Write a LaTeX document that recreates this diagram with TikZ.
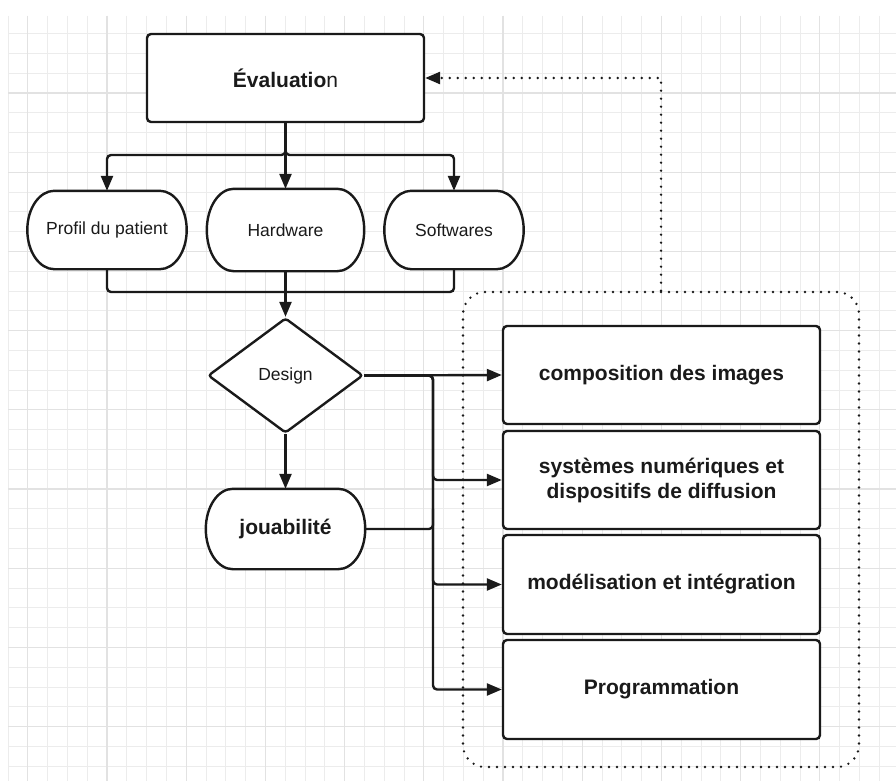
\documentclass[tikz,border=0pt]{standalone}
\usepackage{fontspec}
\setmainfont{Liberation Sans}
\usetikzlibrary{arrows.meta,shapes.geometric,calc,backgrounds}

\definecolor{ink}{HTML}{1A1A1A}
\definecolor{gridminor}{HTML}{ECECEC}
\definecolor{gridmajor}{HTML}{E2E2E2}

% stadium outline with elliptical ends, drawn around a named node
\newcommand\pilloutline[2]{%
  \draw[outline,fill=white] ([xshift=#2]#1.north west) -- ([xshift=-#2]#1.north east)
    .. controls ([xshift=-0.4477*#2]#1.north east) and ($(#1.east)!0.5523!(#1.north east)$) .. (#1.east)
    .. controls ($(#1.east)!0.5523!(#1.south east)$) and ([xshift=-0.4477*#2]#1.south east) .. ([xshift=-#2]#1.south east)
    -- ([xshift=#2]#1.south west)
    .. controls ([xshift=0.4477*#2]#1.south west) and ($(#1.west)!0.5523!(#1.south west)$) .. (#1.west)
    .. controls ($(#1.west)!0.5523!(#1.north west)$) and ([xshift=0.4477*#2]#1.north west) .. ([xshift=#2]#1.north west)
    -- cycle;}

\tikzset{
  outline/.style={draw=ink,line width=2.4pt},
  boxnode/.style={outline,fill=white,rounded corners=4pt,inner sep=0pt,align=center},
  pillnode/.style={inner sep=0pt,align=center},
  boldtext/.style={font=\fontsize{21}{25}\selectfont\bfseries,text=ink},
  plaintext/.style={font=\fontsize{17.5}{21}\selectfont,text=ink},
  conn/.style={draw=ink,line width=2.4pt,rounded corners=4pt},
  tip/.style={-{Triangle[length=15pt,width=12pt]}},
  dots/.style={draw=ink,line width=2.6pt,line cap=round,dash pattern=on 0pt off 8pt},
}

\begin{document}
\begin{tikzpicture}[x=1pt,y=-1pt]
\useasboundingbox (0,0) rectangle (896,781);

% squared paper
\begin{scope}[on background layer]
  \fill[white] (0,0) rectangle (896,781);
  \begin{scope}
    \clip (8,16) rectangle (896,781);
    \foreach \i in {-5,...,40}
      \draw[gridminor,line width=1pt] ({107+19.8*\i},16) -- ({107+19.8*\i},781);
    \foreach \j in {-4,...,35}
      \draw[gridminor,line width=1pt] (8,{93+19.8*\j}) -- (896,{93+19.8*\j});
    \foreach \i in {-1,...,10}
      \draw[gridmajor,line width=1.2pt] ({107+79.2*\i},16) -- ({107+79.2*\i},781);
    \foreach \j in {-1,...,9}
      \draw[gridmajor,line width=1.2pt] (8,{93+79.2*\j}) -- (896,{93+79.2*\j});
  \end{scope}
\end{scope}

% nodes
\node[boxnode,plaintext,font=\fontsize{21}{25}\selectfont,minimum width=277pt,minimum height=88pt]
  (eval) at (285.5,78) {\textbf{Évaluatio}n};

\node[pillnode,plaintext,minimum width=159pt,minimum height=78pt] (profil) at (107,230) {Profil du patient};
\node[pillnode,plaintext,minimum width=157pt,minimum height=82pt] (hardware) at (285.5,230) {Hardware};
\node[pillnode,plaintext,minimum width=139pt,minimum height=78pt] (softwares) at (454,230) {Softwares};

\node[diamond,outline,fill=white,plaintext,inner sep=0pt,minimum width=155pt,minimum height=115pt,
      rounded corners=3pt] (design) at (285.5,375.5) {Design};

\node[pillnode,boldtext,minimum width=159pt,minimum height=80pt] (joua) at (285.5,529) {jouabilité};

\node[boxnode,boldtext,minimum width=317pt,minimum height=98pt] (comp) at (661.5,375) {composition des images};
\node[boxnode,boldtext,minimum width=317pt,minimum height=98pt] (sys) at (661.5,480)
  {systèmes numériques et\\dispositifs de diffusion};
\node[boxnode,boldtext,minimum width=317pt,minimum height=99pt] (model) at (661.5,584.5) {modélisation et intégration};
\node[boxnode,boldtext,minimum width=317pt,minimum height=99pt] (prog) at (661.5,689.5) {Programmation};

% outlines of the rounded terminals
\begin{scope}[on background layer]
  \pilloutline{profil}{27pt}
  \pilloutline{hardware}{27pt}
  \pilloutline{softwares}{27pt}
  \pilloutline{joua}{27pt}
\end{scope}

% dotted group around the four production tasks
\node[dots,rounded corners=22pt,minimum width=396pt,minimum height=475pt,inner sep=0pt]
  (group) at (661,529.5) {};

% routing points
\coordinate (fork) at (285.5,155);
\coordinate (merge) at (285.5,292);
\coordinate (split) at (433,375.5);
\coordinate (jsplit) at (433,529);

% connectors
\draw[conn,tip] (eval.south) -- (hardware.north);
\draw[conn,tip] (eval.south) -- (fork) -| (profil.north);
\draw[conn,tip] (eval.south) -- (fork) -| (softwares.north);

\draw[conn] (profil.south) |- (merge);
\draw[conn] (softwares.south) |- (merge);
\draw[conn,tip] (hardware.south) -- (design.north);

\draw[conn,tip] (design.east) -- (comp.west);
\draw[conn,tip] (design.east) -- (split) |- (sys.west);
\draw[conn,tip] (design.east) -- (split) |- (model.west);
\draw[conn,tip] (design.east) -- (split) |- (prog.west);
\draw[conn,tip] (design.south) -- (joua.north);
\draw[conn] (joua.east) -- (jsplit) -- ([yshift=20pt]jsplit);

% feedback loop back to the evaluation
\draw[dots,tip] (group.north) |- (eval.east);
\end{tikzpicture}
\end{document}
